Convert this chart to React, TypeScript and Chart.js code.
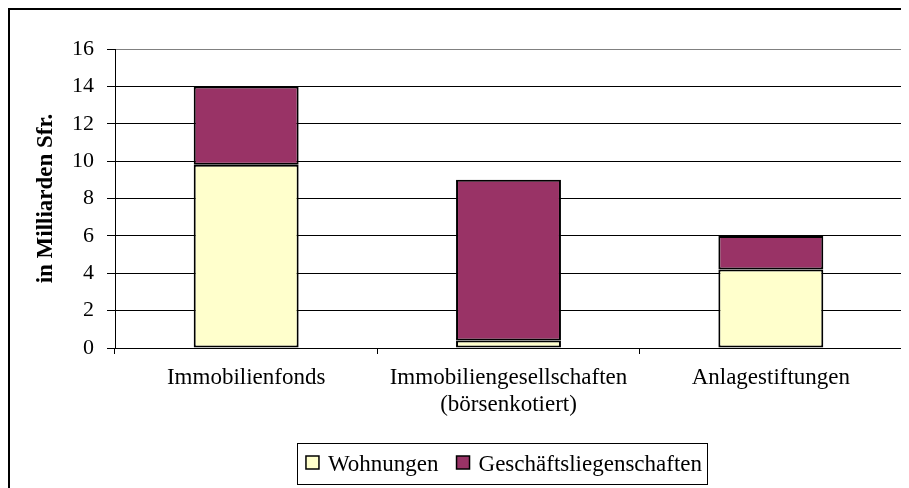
import React, { useEffect, useRef } from "react";
import { Chart, registerables } from "chart.js";

Chart.register(...registerables);

const categories: (string | string[])[] = [
  "Immobilienfonds",
  ["Immobiliengesellschaften", "(börsenkotiert)"],
  "Anlagestiftungen",
];
const wohnungen = [9.8, 0.4, 4.2];
const geschaeft = [4.2, 8.6, 1.8];
const seriesNames = ["Wohnungen", "Geschäftsliegenschaften"];
const yAxisTitle = "in Milliarden Sfr.";

const SERIF = '"Liberation Serif", "Times New Roman", serif';

const frameAndLegend = {
  id: "frameAndLegend",
  afterDraw(chart: any) {
    const { ctx, chartArea } = chart;
    ctx.save();
    // right frame of plot area
    ctx.strokeStyle = "#808080";
    ctx.lineWidth = 1;
    ctx.beginPath();
    ctx.moveTo(chartArea.right + 0.5, chartArea.top);
    ctx.lineTo(chartArea.right + 0.5, chartArea.bottom);
    ctx.stroke();

    // legend
    const boxLeft = 287, boxTop = 433, boxW = 410, boxH = 41;
    ctx.strokeStyle = "#000";
    ctx.lineWidth = 1;
    ctx.strokeRect(boxLeft + 0.5, boxTop + 0.5, boxW, boxH);
    ctx.font = `23px ${SERIF}`;
    ctx.textBaseline = "middle";
    ctx.textAlign = "left";
    const sw = 13, gapSwText = 9, gapItems = 18;
    const items = chart.data.datasets.map((d: any) => ({
      label: d.label as string,
      color: d.backgroundColor as string,
      w: ctx.measureText(d.label).width,
    }));
    let total = 0;
    items.forEach((it: any, i: number) => {
      total += sw + gapSwText + it.w + (i < items.length - 1 ? gapItems : 0);
    });
    let x = boxLeft + (boxW - total) / 2 + 2;
    const cy = boxTop + boxH / 2;
    items.forEach((it: any) => {
      ctx.fillStyle = it.color;
      ctx.fillRect(x, cy - sw / 2 - 1, sw, sw);
      ctx.strokeStyle = "#000";
      ctx.lineWidth = 1.5;
      ctx.strokeRect(x, cy - sw / 2 - 1, sw, sw);
      x += sw + gapSwText;
      ctx.fillStyle = "#000";
      ctx.fillText(it.label, x, cy + 1);
      x += it.w + gapItems;
    });
    ctx.restore();
  },
};

export default function App() {
  const ref = useRef<HTMLCanvasElement | null>(null);
  useEffect(() => {
    if (!ref.current) return;
    const chart = new Chart(ref.current, {
      type: "bar",
      data: {
        labels: categories,
        datasets: [
          {
            label: seriesNames[0],
            data: wohnungen,
            backgroundColor: "#FFFFCC",
            borderColor: "#000",
            borderWidth: 2,
            borderSkipped: false,
            barPercentage: 0.4,
            categoryPercentage: 1,
          },
          {
            label: seriesNames[1],
            data: geschaeft,
            backgroundColor: "#993366",
            borderColor: "#000",
            borderWidth: 2,
            borderSkipped: false,
            barPercentage: 0.4,
            categoryPercentage: 1,
          },
        ],
      },
      options: {
        responsive: false,
        animation: false,
        devicePixelRatio: 1,
        layout: { padding: { top: 39, right: 1, left: 0, bottom: 0 } },
        plugins: {
          legend: { display: false },
          tooltip: { enabled: false },
        },
        scales: {
          x: {
            stacked: true,
            offset: true,
            grid: {
              display: true,
              offset: true,
              drawOnChartArea: false,
              drawTicks: true,
              tickLength: 6,
              color: "#000",
              tickColor: "#000",
            },
            border: { display: true, color: "#000", width: 1 },
            ticks: {
              color: "#000",
              font: { family: SERIF, size: 23 },
              padding: 10,
              maxRotation: 0,
              autoSkip: false,
            },
            afterFit(scale: any) {
              scale.height = 144;
            },
          },
          y: {
            stacked: true,
            min: 0,
            max: 16,
            ticks: {
              stepSize: 2,
              color: "#000",
              font: { family: SERIF, size: 22 },
              padding: 13,
            },
            grid: {
              color: (c: any) => (c.tick && c.tick.value === 16 ? "#808080" : "#000"),
              tickColor: "#000",
              tickLength: 8,
              lineWidth: 1,
            },
            border: { display: true, color: "#000", width: 1 },
            title: {
              display: true,
              text: yAxisTitle,
              color: "#000",
              font: { family: SERIF, size: 23, weight: "bold" },
              padding: { top: 22, bottom: 0 },
            },
            afterFit(scale: any) {
              scale.width = 105;
            },
          },
        },
      },
      plugins: [frameAndLegend],
    });
    return () => chart.destroy();
  }, []);
  return (
    <div
      style={{
        border: "2px solid #000",
        width: 893,
        height: 482,
        boxSizing: "content-box",
        background: "#fff",
      }}
    >
      <canvas ref={ref} width={893} height={482} style={{ display: "block", width: 893, height: 482 }} />
    </div>
  );
}
